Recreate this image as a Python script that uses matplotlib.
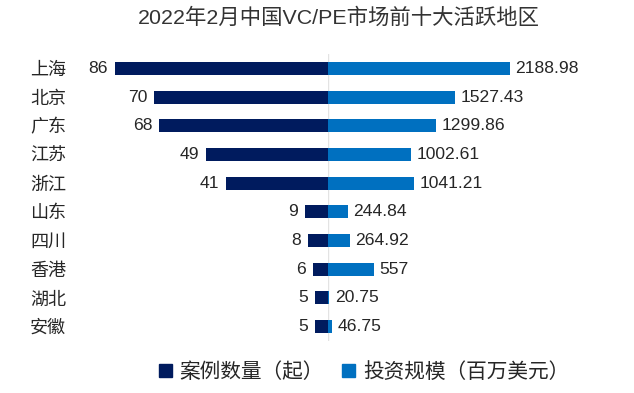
import matplotlib
matplotlib.use("Agg")
import matplotlib.pyplot as plt
from matplotlib.patches import Patch

plt.rcParams['font.family'] = ['Liberation Sans', 'Noto Sans CJK SC', 'DejaVu Sans']

# data
regions = ['上海', '北京', '广东', '江苏', '浙江', '山东', '四川', '香港', '湖北', '安徽']
case_counts = [86, 70, 68, 49, 41, 9, 8, 6, 5, 5]
invest_amounts = [2188.98, 1527.43, 1299.86, 1002.61, 1041.21, 244.84, 264.92, 557, 20.75, 46.75]
invest_labels = ['2188.98', '1527.43', '1299.86', '1002.61', '1041.21', '244.84', '264.92', '557', '20.75', '46.75']

navy = '#001B5E'
blue = '#0070C0'
txt = '#262626'

fig = plt.figure(figsize=(6.34, 3.93), dpi=100)
ax_l = fig.add_axes([80 / 634, 0.1323, 247.7 / 634, 0.7303])
ax_r = fig.add_axes([327.7 / 634, 0.1323, 300 / 634, 0.7303])

ypos = list(range(len(regions)))

bars_l = ax_l.barh(ypos, case_counts, height=0.45, color=navy)
bars_r = ax_r.barh(ypos, invest_amounts, height=0.45, color=blue)

ax_l.set_xlim(100, 0)
ax_r.set_xlim(0, 3606)
for ax in (ax_l, ax_r):
    ax.set_ylim(9.5, -0.5)
    for s in ax.spines.values():
        s.set_visible(False)
    ax.set_xticks([])
    ax.patch.set_alpha(0)

ax_r.axvline(0, color='#e3e3e3', lw=1, zorder=0)

ax_l.set_yticks(ypos)
ax_l.set_yticklabels(regions, fontsize=13, color=txt)
ax_l.tick_params(axis='y', length=0, pad=10)
ax_r.set_yticks([])

ax_l.bar_label(bars_l, labels=[str(v) for v in case_counts], padding=5, fontsize=12.6, color=txt)
ax_r.bar_label(bars_r, labels=invest_labels, padding=4, fontsize=12.6, color=txt)

fig.text(338.5 / 634, 1 - 17.5 / 393, '2022年2月中国VC/PE市场前十大活跃地区',
         ha='center', va='center', fontsize=15.4, color='#333333')

handles = [Patch(color=navy), Patch(color=blue)]
fig.legend(handles, ['案例数量（起）', '投资规模（百万美元）'], loc='center',
           bbox_to_anchor=(364 / 634, 1 - 371.7 / 393), ncol=2, frameon=False,
           fontsize=14.9, handlelength=0.62, handleheight=0.62, handletextpad=0.37,
           columnspacing=0.9, borderpad=0, labelcolor=txt)

fig.savefig('out.png', dpi=100)
